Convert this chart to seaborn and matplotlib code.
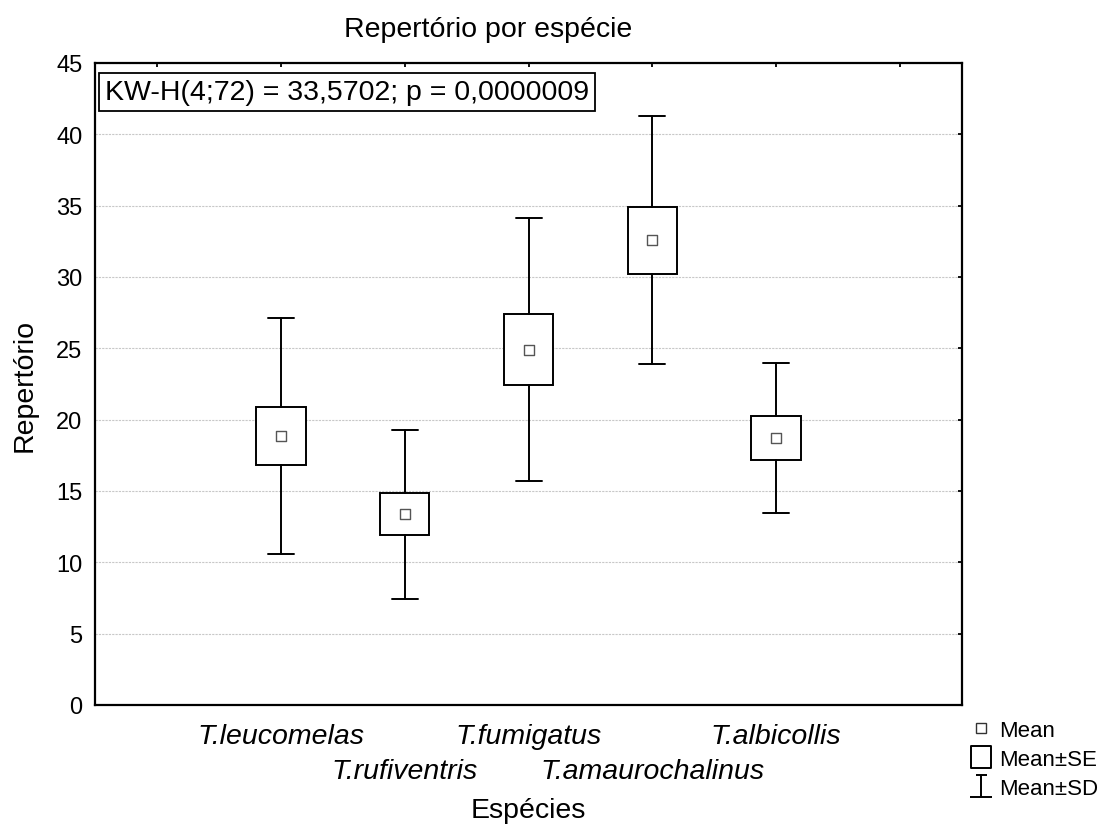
import numpy as np
import matplotlib
matplotlib.use("Agg")
import matplotlib.pyplot as plt
from matplotlib.lines import Line2D
from matplotlib.path import Path
import seaborn as sns

# Summary statistics of song repertoire per species
species = ["T.leucomelas", "T.rufiventris", "T.fumigatus", "T.amaurochalinus", "T.albicollis"]
means = [18.87, 13.36, 24.91, 32.58, 18.72]
se = [2.05, 1.48, 2.48, 2.35, 1.55]
sd = [8.27, 5.93, 9.24, 8.68, 5.28]

title = "Repertório por espécie"
xlabel = "Espécies"
ylabel = "Repertório"
stat_text = "KW-H(4;72) = 33,5702; p = 0,0000009"
legend_labels = ["Mean", "Mean±SE", "Mean±SD"]

sns.set_theme(style="white")
plt.rcParams["font.family"] = ["Liberation Sans", "DejaVu Sans"]
plt.rcParams.update({"text.color": "black", "axes.labelcolor": "black",
                     "xtick.color": "black", "ytick.color": "black"})

BIG = 20.5
fig = plt.figure(figsize=(11.1, 8.29), dpi=100)
ax = fig.add_axes([0.0856, 0.1484, 0.7811, 0.7744])

positions = np.arange(len(species))
stats = []
for m, s, d in zip(means, se, sd):
    stats.append(dict(med=m, q1=m - s, q3=m + s, whislo=m - d, whishi=m + d, fliers=[]))

line_kw = dict(color="black", linewidth=1.4)
ax.bxp(stats, positions=positions, widths=0.40, capwidths=0.21,
       showfliers=False, showmeans=False, patch_artist=True,
       boxprops=dict(facecolor="white", edgecolor="black", linewidth=1.4),
       whiskerprops=line_kw, capprops=line_kw,
       medianprops=dict(linewidth=0), manage_ticks=False, zorder=3)

sns.scatterplot(x=positions, y=means, marker="s", s=55, facecolor="white",
                edgecolor="#555555", linewidth=1.0, ax=ax, zorder=4, legend=False)

ax.set_xlim(-1.5, 5.5)
ax.set_ylim(0, 45)
ax.set_yticks(np.arange(0, 46, 5))

# Staggered category labels: even categories on the first row, odd ones on the second
upper = [p for p in positions if p % 2 == 0]
lower = [p for p in positions if p % 2 == 1]
ax.set_xticks([-1] + upper + [len(species)])
ax.set_xticklabels([""] + [species[p] for p in upper] + [""], fontstyle="italic", fontsize=BIG)
ax.set_xticks(lower, minor=True)
ax.set_xticklabels([species[p] for p in lower], minor=True, fontstyle="italic", fontsize=BIG)

ax.tick_params(axis="both", which="both", direction="in", length=3.2, width=1.3,
               color="black", top=True, right=True)
ax.tick_params(axis="y", labelsize=17, pad=9)
ax.tick_params(axis="x", which="major", pad=12.9)
ax.tick_params(axis="x", which="minor", pad=38.1)
ax.yaxis.grid(True, linestyle=(0, (2, 1)), color="#c8c8c8", linewidth=0.8)
ax.xaxis.grid(False, which="both")
ax.set_axisbelow(True)
for sp in ax.spines.values():
    sp.set_color("black")
    sp.set_linewidth(1.6)
    sp.set_zorder(6)

fig.text(0.44, 0.964, title, fontsize=BIG, ha="center", va="center")
ax.set_xlabel(xlabel, fontsize=BIG)
ax.xaxis.set_label_coords(0.5, -0.163)
ax.xaxis.label.set_va("center")
ax.set_ylabel(ylabel, fontsize=BIG)
ax.yaxis.set_label_coords(-0.081, 0.5)
ax.yaxis.label.set_va("center")

ax.text(0.0115, 0.975, stat_text, transform=ax.transAxes, fontsize=BIG,
        va="top", ha="left", zorder=7,
        bbox=dict(boxstyle="square,pad=0.2", facecolor="white", edgecolor="black", linewidth=1.3))

# Legend symbols: small square, box, and whisker with caps
box_marker = Path([(-0.43, -0.5), (0.43, -0.5), (0.43, 0.5), (-0.43, 0.5), (-0.43, -0.5)],
                  [Path.MOVETO, Path.LINETO, Path.LINETO, Path.LINETO, Path.CLOSEPOLY])
whisker_marker = Path([(-0.24, 0.5), (0.24, 0.5), (0, 0.5), (0, -0.5), (-0.46, -0.5), (0.46, -0.5)],
                      [Path.MOVETO, Path.LINETO, Path.MOVETO, Path.LINETO, Path.MOVETO, Path.LINETO])
handles = [
    Line2D([], [], linestyle="none", marker="s", markersize=6.5, markerfacecolor="white",
           markeredgecolor="#333333", markeredgewidth=1.0),
    Line2D([], [], linestyle="none", marker=box_marker, markersize=16.5, markerfacecolor="white",
           markeredgecolor="black", markeredgewidth=1.4),
    Line2D([], [], linestyle="none", marker=whisker_marker, markersize=16.5,
           markeredgecolor="black", markeredgewidth=1.4, markerfacecolor="none"),
]
fig.legend(handles, legend_labels, loc="upper left", bbox_to_anchor=(970 / 1110, 1 - 721 / 829),
           frameon=False, fontsize=16, handlelength=1.0, handletextpad=0.3,
           labelspacing=0.36, borderaxespad=0, borderpad=0)

fig.savefig("out.png", dpi=100, facecolor="white")
